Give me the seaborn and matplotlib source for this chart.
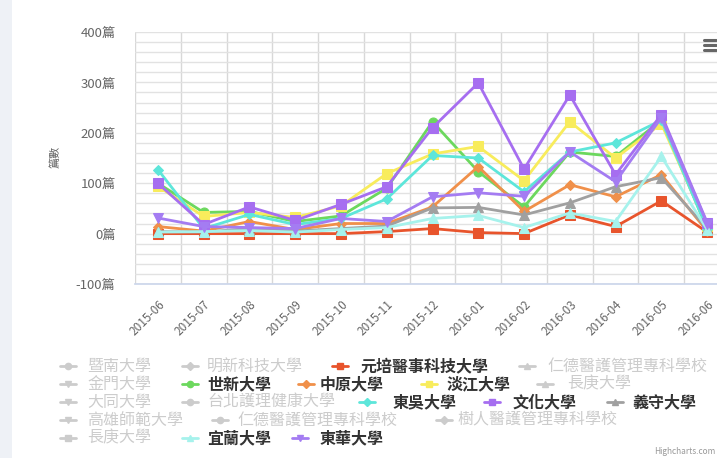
import seaborn as sns
import matplotlib.pyplot as plt
from matplotlib.lines import Line2D
from matplotlib.patches import Rectangle
from matplotlib.ticker import MultipleLocator, FixedLocator

months = ['2015-06', '2015-07', '2015-08', '2015-09', '2015-10', '2015-11', '2015-12',
          '2016-01', '2016-02', '2016-03', '2016-04', '2016-05', '2016-06']

# visible series
yuanpei = [0, 0, 0, 0, 0, 4, 10, 2, 0, 37, 14, 65, 3]
shihhsin = [100, 42, 44, 24, 35, 90, 222, 123, 53, 162, 153, 225, 10]
chungyuan = [14, 5, 24, 8, 20, 20, 53, 133, 44, 97, 73, 117, 5]
tamkang = [94, 34, 42, 32, 55, 119, 158, 173, 105, 222, 150, 218, 15]
soochow = [127, 10, 38, 18, 30, 69, 155, 150, 83, 162, 180, 225, 10]
culture = [100, 18, 53, 26, 58, 93, 210, 299, 128, 275, 117, 236, 22]
isu = [4, 3, 10, 5, 10, 15, 51, 52, 37, 61, 93, 111, 10]
ilan = [3, 4, 6, 3, 8, 12, 30, 36, 12, 41, 24, 153, 8]
dhu = [31, 14, 12, 10, 30, 24, 73, 81, 74, 162, 103, 230, 20]

series = [
    ('元培醫事科技大學', yuanpei, '#e8542c', 's'),
    ('世新大學', shihhsin, '#6cd85e', 'o'),
    ('中原大學', chungyuan, '#f0904a', 'D'),
    ('淡江大學', tamkang, '#f8ec5c', 's'),
    ('東吳大學', soochow, '#5de6da', 'D'),
    ('文化大學', culture, '#a66ef0', 's'),
    ('義守大學', isu, '#a0a0a0', '^'),
    ('宜蘭大學', ilan, '#a6f2ec', '^'),
    ('東華大學', dhu, '#a47cf2', 'v'),
]

# legend rows: (name, marker, colour or None when hidden, symbol x px, text x px)
legend_rows = [
    [('暨南大學', 'o', None, 60, 87), ('明新科技大學', 'D', None, 182, 207),
     ('元培醫事科技大學', 's', '#e8542c', 332, 360), ('仁德醫護管理專科學校', '^', None, 519, 547)],
    [('金門大學', 'v', None, 60, 87), ('世新大學', 'o', '#6cd85e', 182, 207),
     ('中原大學', 'D', '#f0904a', 298, 320), ('淡江大學', 's', '#f8ec5c', 421, 447),
     ('長庚大學', '^', None, 537, 567)],
    [('大同大學', 'v', None, 60, 87), ('台北護理健康大學', 'o', None, 182, 207),
     ('東吳大學', 'D', '#5de6da', 359, 393), ('文化大學', 's', '#a66ef0', 484, 513),
     ('義守大學', '^', '#a0a0a0', 607, 632)],
    [('高雄師範大學', 'v', None, 60, 87), ('仁德醫護管理專科學校', 'o', None, 212, 237),
     ('樹人醫護管理專科學校', 'D', None, 436, 457)],
    [('長庚大學', 's', None, 60, 87), ('宜蘭大學', '^', '#a6f2ec', 182, 207),
     ('東華大學', 'v', '#a47cf2', 292, 320)],
]
legend_y = [366, 384, 402, 420, 438]

sns.set_theme(style='white')
plt.rcParams['font.family'] = ['Noto Sans CJK TC', 'DejaVu Sans']

W, H = 717, 458
fig = plt.figure(figsize=(W / 100, H / 100), dpi=100)
fig.patch.set_facecolor('white')
fig.add_artist(Rectangle((0, 0), 12 / W, 1, transform=fig.transFigure,
                         facecolor='#eef1f6', edgecolor='none'))

ax = fig.add_axes([135 / W, 1 - 284 / H, 595 / W, 252 / H])
for name, vals, color, mk in series:
    ms = 7.5 if mk == 's' else (5 if mk == 'D' else 6.5)
    sns.lineplot(x=months, y=vals, ax=ax, color=color, marker=mk, markersize=ms,
                 markeredgecolor=color, linewidth=2, label=name, legend=False)

ax.set_xlim(-0.5, 12.5)
ax.set_ylim(-100, 400)
ax.yaxis.set_major_locator(MultipleLocator(100))
ax.yaxis.set_minor_locator(MultipleLocator(20))
ax.set_yticklabels([f'{int(v)}篇' for v in ax.get_yticks()])
ax.grid(True, which='both', axis='y', color='#e2e2e2', linewidth=1)
ax.xaxis.set_major_locator(FixedLocator([i - 0.5 for i in range(14)]))
ax.xaxis.set_minor_locator(FixedLocator(list(range(len(months)))))
ax.set_xticklabels([], minor=False)
ax.set_xticklabels(months, minor=True, rotation=45, ha='right', rotation_mode='anchor')
ax.grid(True, which='major', axis='x', color='#d8d8d8', linewidth=1)
ax.tick_params(axis='x', which='major', length=8, color='#ccd6eb', width=1)
ax.tick_params(axis='x', which='minor', length=0, pad=10, labelsize=8.5, labelcolor='#666666')
ax.tick_params(axis='y', which='both', length=0, pad=14, labelsize=9.5, labelcolor='#666666')
for side in ['top', 'right', 'left']:
    ax.spines[side].set_visible(False)
ax.spines['bottom'].set_color('#ccd6eb')
ax.set_xlabel('')
ax.set_ylabel('')
ax.set_facecolor('white')

fig.text(55 / W, 1 - 157 / H, '篇數', rotation=90, ha='center', va='center',
         fontsize=8, color='#666666')

# legend
for row, py in zip(legend_rows, legend_y):
    fy = 1 - py / H
    for name, mk, color, sx, tx in row:
        c = color if color else '#cccccc'
        fig.add_artist(Line2D([sx / W, (sx + 16) / W], [fy, fy], transform=fig.transFigure,
                              color=c, linewidth=2))
        fig.add_artist(Line2D([(sx + 8) / W], [fy], transform=fig.transFigure, color=c,
                              marker=mk, markersize=4.5, markeredgecolor=c))
        fig.text(tx / W, fy, name, ha='left', va='center', fontsize=11.5,
                 color='#333333' if color else '#cccccc',
                 fontweight='bold' if color else 'normal')

# menu icon
for py in [40, 45, 50]:
    fig.add_artist(Line2D([704 / W, 716 / W], [1 - py / H, 1 - py / H],
                          transform=fig.transFigure, color='#666666', linewidth=2.2))

fig.text(715 / W, 2 / H, 'Highcharts.com', fontsize=6, color='#999999', ha='right', va='bottom')

fig.savefig('out.png', dpi=100)
